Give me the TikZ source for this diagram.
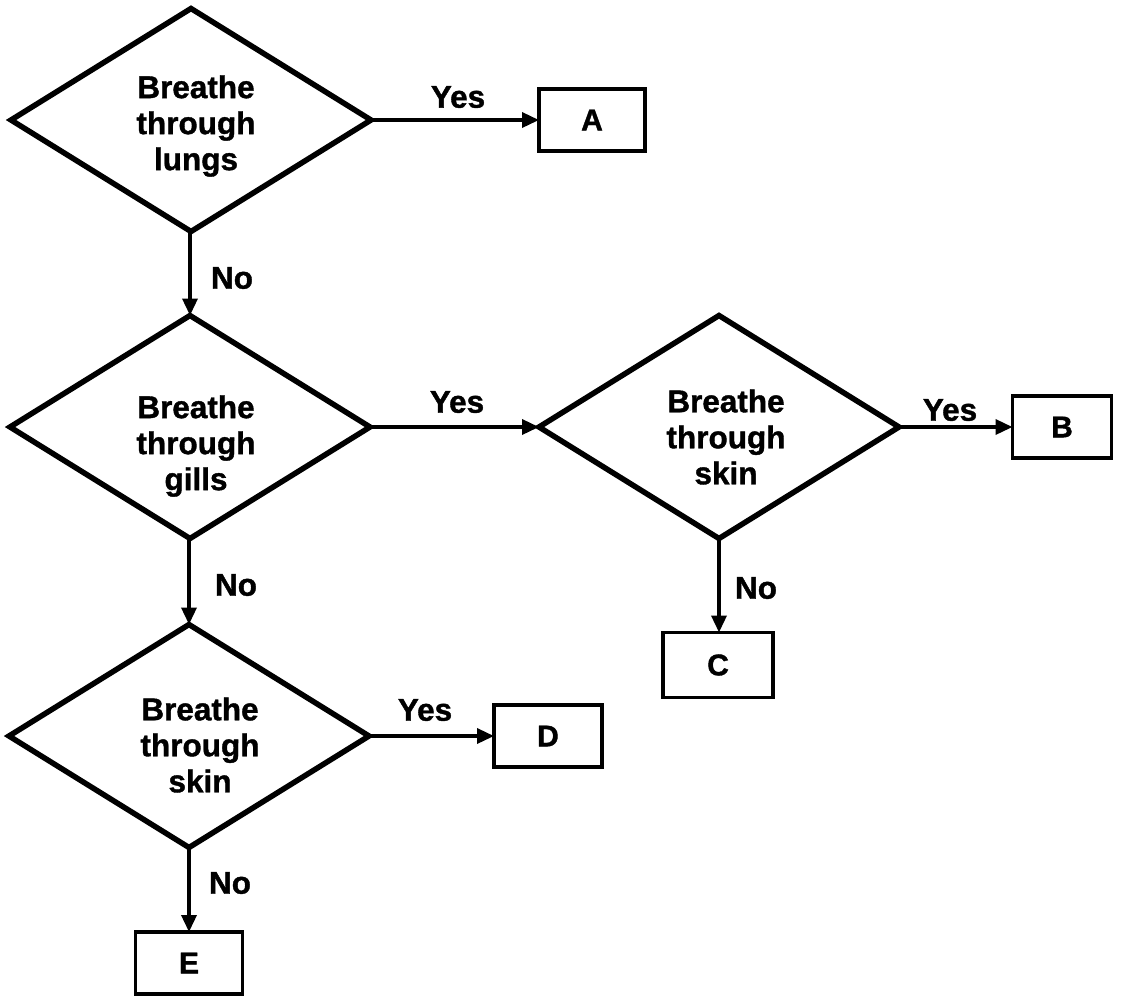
\documentclass[tikz,border=0pt]{standalone}
\usepackage{fontspec}
\setmainfont{Liberation Sans}[BoldFeatures={FakeBold=1.2}]
\usetikzlibrary{shapes.geometric,arrows.meta}
\begin{document}
\begin{tikzpicture}[x=1pt,y=-1pt,
  dia/.style={diamond, draw, line width=5.5pt, inner sep=0pt, outer sep=0pt,
              minimum width=360pt, minimum height=223pt},
  box/.style={draw, line width=3.5pt, inner sep=0pt, outer sep=0pt,
              minimum width=106pt, minimum height=62pt,
              font=\fontsize{30}{36}\selectfont\bfseries},
  dtxt/.style={align=center, inner sep=0pt, font=\fontsize{31.5}{36}\selectfont\bfseries},
  lbl/.style={inner sep=0pt, font=\fontsize{31.5}{36}\selectfont\bfseries},
  arr/.style={line width=3.5pt, -{Triangle[length=17pt,width=15pt]}}]
\useasboundingbox (0,0) rectangle (1121,997);
% diamonds
\node[dia] (d1) at (191,120) {};
\node[dia] (d2) at (190,427) {};
\node[dia] (d3) at (719,427) {};
\node[dia] (d4) at (189,736) {};
\node[dtxt] (t1) at (196,126) {Breathe\\through\\lungs};
\node[dtxt] (t2) at (196,446) {Breathe\\through\\gills};
\node[dtxt] (t3) at (726,437) {Breathe\\through\\skin};
\node[dtxt] (t4) at (200,745) {Breathe\\through\\skin};
% boxes
\node[box] (A) at (592,120) {A};
\node[box, minimum width=99pt] (B) at (1062,427) {B};
\node[box, minimum width=110pt, minimum height=65pt] (C) at (718,665) {C};
\node[box, minimum width=108pt] (D) at (548,736) {D};
\node[box, minimum width=107pt] (E) at (189,963) {E};
% connectors
\draw[arr] (d1.east) -- (A.west);
\draw[arr] (d1.south -| d2.north) -- (d2.north);
\draw[arr] (d2.east) -- (d3.west);
\draw[arr] (d3.east) -- (B.west);
\draw[arr] (d3.south) -- (C.north -| d3.south);
\draw[arr] (d2.south -| d4.north) -- (d4.north);
\draw[arr] (d4.east) -- (D.west);
\draw[arr] (d4.south) -- (E.north);
% labels
\node[lbl] (y1) at (458,97) {Yes};
\node[lbl] (n1) at (232,278) {No};
\node[lbl] (y2) at (457,402) {Yes};
\node[lbl] (n2) at (236,585) {No};
\node[lbl] (y3) at (950,410) {Yes};
\node[lbl] (n3) at (756,588) {No};
\node[lbl] (y4) at (425,710) {Yes};
\node[lbl] (n4) at (230,883) {No};
\end{tikzpicture}
\end{document}
